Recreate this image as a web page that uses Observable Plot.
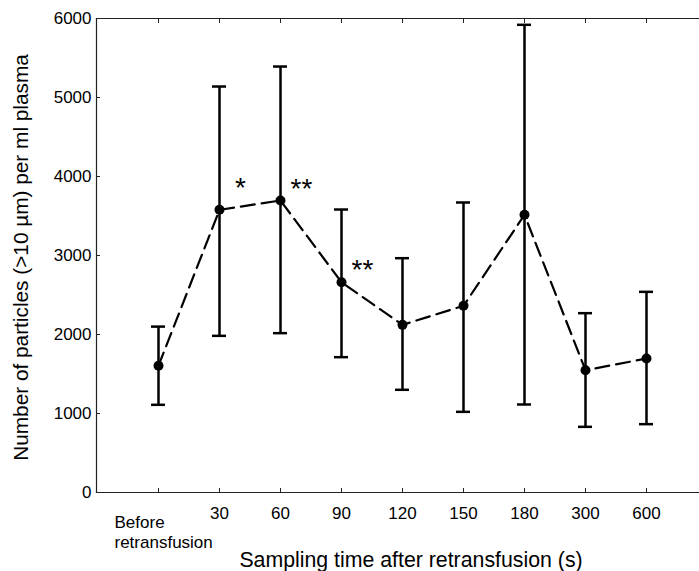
<!DOCTYPE html>
<html>
<head>
<meta charset="utf-8">
<script src="https://cdn.jsdelivr.net/npm/d3@7"></script>
<script src="https://cdn.jsdelivr.net/npm/@observablehq/plot@0.6"></script>
<style>
  html, body { margin: 0; padding: 0; background: #fff; }
  #chart svg { display: block; font-family: "Liberation Sans", Arial, sans-serif; }
</style>
</head>
<body>
<div id="chart"></div>
<script>
// Sampling times (categories)
const times = ["Before", "30", "60", "90", "120", "150", "180", "300", "600"];
// Mean particle count per ml plasma
const means = [1605, 3578, 3696, 2662, 2122, 2363, 3515, 1548, 1696];
// Error bar upper and lower ends
const upper = [2100, 5139, 5392, 3582, 2966, 3671, 5920, 2270, 2540];
const lower = [1110, 1983, 2017, 1713, 1300, 1021, 1114, 831, 865];
// Y tick values
const yTicks = [0, 1000, 2000, 3000, 4000, 5000, 6000];
// Significance annotations
const annotTimes = ["30", "60", "90"];
const annotLabels = ["*", "**", "**"];
const annotValues = [3850, 3840, 2810];

const xTitle = "Sampling time after retransfusion (s)";
const yTitle = "Number of particles (>10 µm) per ml plasma";

const data = times.map((t, i) => ({time: t, mean: means[i], hi: upper[i], lo: lower[i]}));
const annots = annotTimes.map((t, i) => ({time: t, label: annotLabels[i], v: annotValues[i]}));

const axisColor = "#222";

const chart = Plot.plot({
  width: 699,
  height: 571,
  marginTop: 18,
  marginBottom: 79,
  marginLeft: 96,
  marginRight: 0,
  style: {fontFamily: "'Liberation Sans', Arial, sans-serif", color: "#000", background: "#fff"},
  x: {type: "point", domain: times, padding: 0.922, align: 0.54},
  y: {domain: [0, 6000]},
  marks: [
    Plot.frame({anchor: "left", stroke: axisColor, strokeWidth: 1.2}),
    Plot.frame({anchor: "top", stroke: axisColor, strokeWidth: 1.2}),
    Plot.frame({anchor: "bottom", stroke: axisColor, strokeWidth: 1.2}),
    Plot.axisY({ticks: yTicks, tickSize: -4, tickPadding: 9, fontSize: 17, label: null, stroke: axisColor, tickFormat: d => String(d)}),
    Plot.axisX({ticks: times, tickSize: -4, tickFormat: () => "", label: null, stroke: axisColor}),
    Plot.axisX({anchor: "top", ticks: times, tickSize: -4, tickFormat: () => "", label: null, stroke: axisColor}),
    Plot.axisX({ticks: times.slice(1), tickSize: 0, tickPadding: 14, fontSize: 17, label: null}),
    Plot.axisX({ticks: times.slice(0, 1), tickSize: 0, tickPadding: 21, fontSize: 17, label: null,
      textAnchor: "start", dx: -44, lineHeight: 1.2, tickFormat: () => "Before\nretransfusion"}),
    Plot.ruleX(data, {x: "time", y1: "lo", y2: "hi", stroke: "#000", strokeWidth: 2.5}),
    Plot.ruleY(data, {x1: "time", x2: "time", y: "hi", insetLeft: -7, insetRight: -7, stroke: "#000", strokeWidth: 2.5}),
    Plot.ruleY(data, {x1: "time", x2: "time", y: "lo", insetLeft: -7, insetRight: -7, stroke: "#000", strokeWidth: 2.5}),
    Plot.line(data, {x: "time", y: "mean", stroke: "#000", strokeWidth: 2.2, strokeDasharray: "14,7"}),
    Plot.dot(data, {x: "time", y: "mean", r: 5, fill: "#000", stroke: "none"}),
    Plot.text(annots, {x: "time", y: "v", text: "label", dx: 21, fontSize: 28, fill: "#000"}),
    Plot.text([xTitle], {frameAnchor: "bottom", textAnchor: "middle", lineAnchor: "middle", dy: 68, dx: 13, fontSize: 21.3, fill: "#000"}),
    Plot.text([yTitle], {frameAnchor: "left", textAnchor: "middle", lineAnchor: "middle", rotate: -90, dx: -75, dy: 2, fontSize: 20.8, fill: "#000"})
  ]
});
document.getElementById("chart").appendChild(chart);
</script>
</body>
</html>
